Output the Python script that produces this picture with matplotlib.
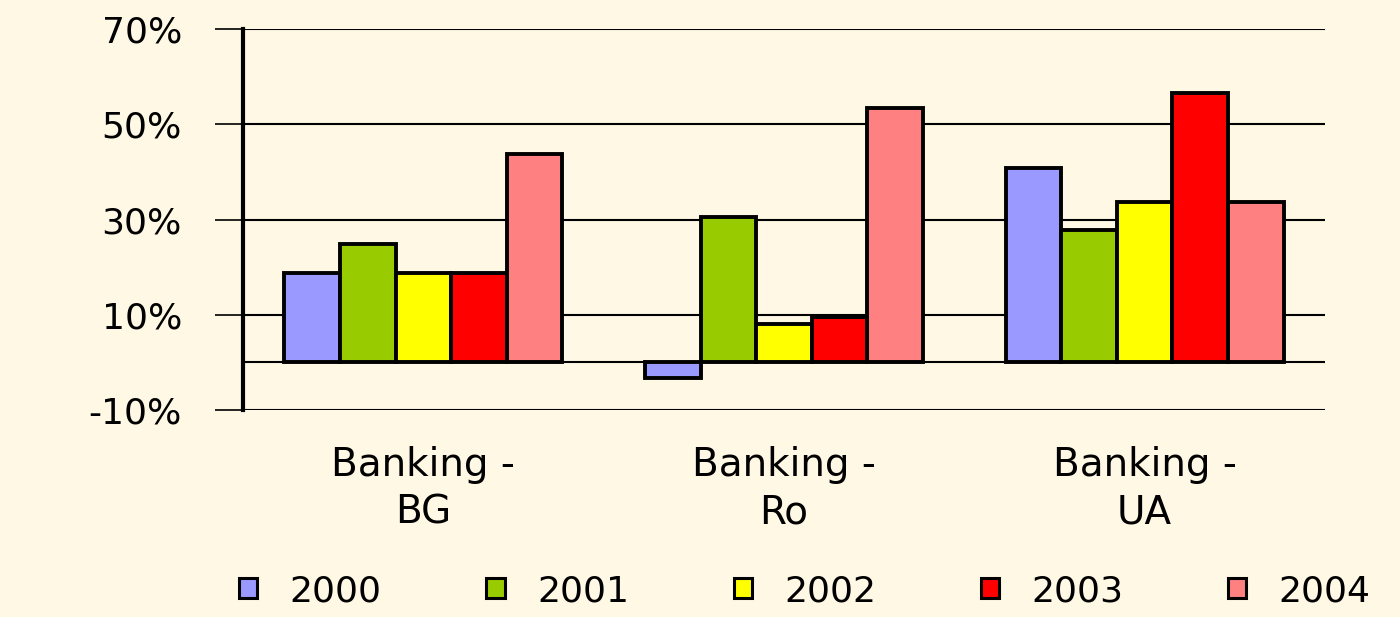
import numpy as np
import matplotlib
matplotlib.use("Agg")
import matplotlib.pyplot as plt

categories = ["Banking -\nBG", "Banking -\nRo", "Banking -\nUA"]
years = ["2000", "2001", "2002", "2003", "2004"]
values_2000 = [18.8, -3.2, 40.8]
values_2001 = [24.9, 30.5, 27.9]
values_2002 = [18.8, 8.0, 33.7]
values_2003 = [18.8, 9.6, 56.6]
values_2004 = [43.8, 53.5, 33.7]
colors = ["#9999FF", "#99CC00", "#FFFF00", "#FF0000", "#FF8080"]
yticks = [-10, 10, 30, 50, 70]
ytick_labels = ["-10%", "10%", "30%", "50%", "70%"]

bg = "#FFF8E4"
W, H = 1400, 617
fig = plt.figure(figsize=(W / 100, H / 100), dpi=100, facecolor=bg)
ax = fig.add_axes([243 / W, 1 - 410 / H, (1325 - 243) / W, (410 - 29) / H])
ax.set_facecolor("none")

series = [values_2000, values_2001, values_2002, values_2003, values_2004]
x = np.arange(len(categories))
width = 0.154
for i, (vals, c, yr) in enumerate(zip(series, colors, years)):
    ax.bar(x + (i - 2) * width, vals, width, color=c, edgecolor="black",
           linewidth=2.8, label=yr, zorder=3)

ax.set_xlim(-0.5, 2.5)
ax.set_ylim(-10, 70)
ax.set_yticks(yticks, ytick_labels, fontsize=26)
ax.yaxis.grid(True, color="black", linewidth=1.5)
ax.set_axisbelow(True)
ax.axhline(0, color="black", linewidth=1.5, zorder=2)
ax.tick_params(axis="y", length=20, width=1.2, pad=24)
ax.set_xticks(x, categories, fontsize=28)
for lbl in ax.get_xticklabels():
    lbl.set_linespacing(1.3)
ax.tick_params(axis="x", length=0, pad=26)
for s in ["top", "right", "bottom"]:
    ax.spines[s].set_visible(False)
ax.spines["left"].set_linewidth(3)

leg = fig.legend(loc="center", bbox_to_anchor=(805 / W, 26 / H), ncol=5,
                 fontsize=26, frameon=False, handlelength=0.5, handleheight=0.5,
                 handletextpad=0.9, columnspacing=2.9)
for h in leg.legend_handles:
    h.set_linewidth(2.2)

fig.savefig("out.png", dpi=100, facecolor=bg)
